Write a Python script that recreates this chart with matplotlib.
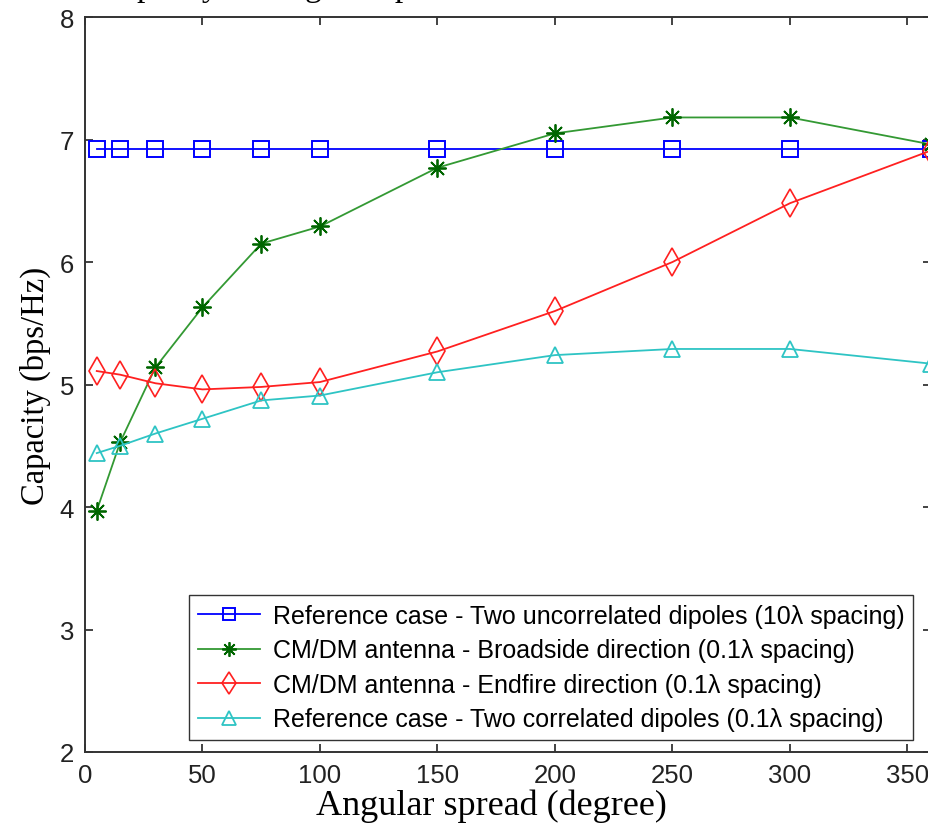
import numpy as np
import matplotlib.pyplot as plt

# Angular spread (degree) sample points
spread = [5, 15, 30, 50, 75, 100, 150, 200, 250, 300, 360]

# Capacity (bps/Hz)
uncorrelated_10 = [6.92, 6.92, 6.92, 6.92, 6.92, 6.92, 6.92, 6.92, 6.92, 6.92, 6.92]
broadside = [3.97, 4.53, 5.14, 5.63, 6.15, 6.29, 6.77, 7.05, 7.18, 7.18, 6.96]
endfire = [5.11, 5.08, 5.01, 4.96, 4.98, 5.02, 5.27, 5.60, 6.00, 6.48, 6.91]
correlated_01 = [4.44, 4.50, 4.60, 4.72, 4.87, 4.91, 5.10, 5.24, 5.29, 5.29, 5.17]

labels = [
    'Reference case - Two uncorrelated dipoles (10\u03bb spacing)',
    'CM/DM antenna - Broadside direction (0.1\u03bb spacing)',
    'CM/DM antenna - Endfire direction (0.1\u03bb spacing)',
    'Reference case - Two correlated dipoles (0.1\u03bb spacing)',
]

sans = ['Liberation Sans', 'DejaVu Sans']
serif = ['Liberation Serif', 'DejaVu Serif']

fig = plt.figure(figsize=(9.29, 8.29), dpi=100)
ax = fig.add_axes([85 / 929, 76 / 829, 846 / 929, 735 / 829])

ax.plot(spread, uncorrelated_10, color='#0000ff', lw=1.3, marker='s', ms=11,
        mfc='none', mec='#0000ff', mew=1.4, label=labels[0])
ax.plot(spread, broadside, color='#339933', lw=1.3, marker=(8, 2, 0), ms=13,
        mfc='#006600', mec='#006600', mew=1.3, label=labels[1])
ax.plot(spread, endfire, color='#ff2020', lw=1.3, marker='d', ms=14,
        mfc='none', mec='#ff2020', mew=1.2, label=labels[2])
ax.plot(spread, correlated_01, color='#2ec4c4', lw=1.3, marker='^', ms=12,
        mfc='none', mec='#2ec4c4', mew=1.3, label=labels[3])

ax.set_xlim(0, 360)
ax.set_ylim(2, 8)
ax.set_xticks(np.arange(0, 351, 50))
ax.set_yticks(np.arange(2, 9, 1))
ax.tick_params(direction='in', top=True, right=True, length=6, width=1.2,
               labelsize=18.5, pad=8, colors='#222222')
for lab in ax.get_xticklabels() + ax.get_yticklabels():
    lab.set_family(sans)
for sp in ax.spines.values():
    sp.set_linewidth(1.4)
    sp.set_color('#333333')

ax.set_xlabel('Angular spread (degree)', family=serif, fontsize=26)
ax.xaxis.set_label_coords(0.481, -0.05, transform=ax.transAxes)
ax.xaxis.label.set_va('top')
ax.set_ylabel('Capacity (bps/Hz)', family=serif, fontsize=23.5, labelpad=6)

leg = ax.legend(loc='lower right', prop={'family': sans, 'size': 18},
                frameon=True, fancybox=False, edgecolor='black',
                handlelength=2.5, handletextpad=0.5, labelspacing=0.42,
                borderpad=0.35, borderaxespad=0, markerscale=0.8)
leg.get_frame().set_linewidth(1.0)
leg.set_bbox_to_anchor((913 / 929, 88 / 829), transform=fig.transFigure)

# Chart heading sits mostly above the canvas edge
fig.text(100 / 929, 1 + 4 / 829, 'Capacity vs. angular spread', family=serif,
         fontsize=24, va='baseline', ha='left')

fig.savefig('out.png', dpi=100)
